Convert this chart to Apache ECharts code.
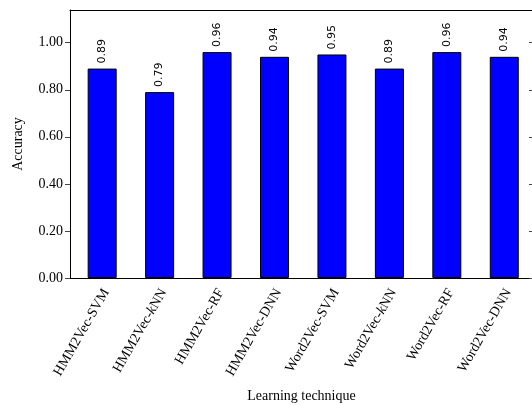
<!DOCTYPE html>
<html>
<head>
<meta charset="utf-8">
<script src="https://cdn.jsdelivr.net/npm/echarts@6/dist/echarts.min.js"></script>
<style>
  html, body { margin: 0; padding: 0; background: #ffffff; }
  #chart { width: 532px; height: 405px; }
</style>
</head>
<body>
<div id="chart"></div>
<script>
// Accuracy of each learning technique
const techniques = [
  'HMM2Vec-SVM', 'HMM2Vec-{i|k}NN', 'HMM2Vec-RF', 'HMM2Vec-DNN',
  'Word2Vec-SVM', 'Word2Vec-{i|k}NN', 'Word2Vec-RF', 'Word2Vec-DNN'
];
const accuracy = [0.89, 0.79, 0.96, 0.94, 0.95, 0.89, 0.96, 0.94];
const yTicks = [0, 0.2, 0.4, 0.6, 0.8, 1.0];

const positions = techniques.map((_, i) => i);
// rotated category labels sit slightly right of each bar centre
const labelPositions = positions.map(p => p + 0.07);
const serif = '"Liberation Serif", "Times New Roman", serif';
const xMin = -0.56, xMax = 7.5, yMax = 1.139;

const chart = echarts.init(document.getElementById('chart'), null, { renderer: 'canvas' });

chart.setOption({
  animation: false,
  backgroundColor: '#ffffff',
  grid: {
    left: 70, right: -1, top: 10, bottom: 127,
    containLabel: false, outerBoundsMode: 'none'
  },
  xAxis: [
    {
      type: 'value', min: xMin, max: xMax, position: 'bottom',
      name: 'Learning technique', nameLocation: 'middle', nameGap: 111,
      nameTextStyle: { fontFamily: serif, fontSize: 14, color: '#000' },
      axisLine: { show: true, onZero: false, lineStyle: { color: '#000', width: 1 } },
      axisTick: { show: false },
      splitLine: { show: false },
      axisLabel: {
        customValues: labelPositions,
        rotate: 60, margin: 12,
        fontFamily: serif, fontSize: 14, color: '#000',
        formatter: v => techniques[Math.round(v)],
        rich: { i: { fontFamily: serif, fontSize: 14, fontStyle: 'italic', color: '#000' } }
      }
    },
    {
      type: 'value', min: xMin, max: xMax, position: 'top',
      axisLine: { show: true, onZero: false, lineStyle: { color: '#000', width: 1 } },
      axisTick: { show: false }, axisLabel: { show: false }, splitLine: { show: false }
    }
  ],
  yAxis: [
    {
      type: 'value', min: 0, max: yMax, position: 'left',
      name: 'Accuracy', nameLocation: 'middle', nameGap: 45, nameRotate: 90,
      nameTextStyle: { fontFamily: serif, fontSize: 14, color: '#000' },
      axisLine: { show: true, onZero: false, lineStyle: { color: '#000', width: 1 } },
      axisTick: { show: true, inside: false, length: 5, customValues: yTicks, lineStyle: { color: '#444' } },
      splitLine: { show: false },
      axisLabel: {
        customValues: yTicks, margin: 7,
        fontFamily: serif, fontSize: 14, color: '#000',
        formatter: v => v.toFixed(2)
      }
    },
    {
      type: 'value', min: 0, max: yMax, position: 'right',
      axisLine: { show: true, onZero: false, lineStyle: { color: '#000', width: 1 } },
      axisTick: { show: true, inside: true, length: 4, customValues: yTicks, lineStyle: { color: '#444' } },
      axisLabel: { show: false }, splitLine: { show: false }
    }
  ],
  series: [{
    type: 'bar',
    xAxisIndex: 0, yAxisIndex: 0,
    data: accuracy.map((v, i) => [positions[i], v]),
    barWidth: 29,
    itemStyle: { color: '#0000ff', borderColor: '#000', borderWidth: 1 },
    label: {
      show: true, position: 'top', distance: 5, rotate: 90,
      align: 'left', verticalAlign: 'middle',
      fontFamily: '"DejaVu Sans", sans-serif', fontSize: 11, color: '#000',
      formatter: p => p.value[1].toFixed(2)
    }
  }]
});
</script>
</body>
</html>
